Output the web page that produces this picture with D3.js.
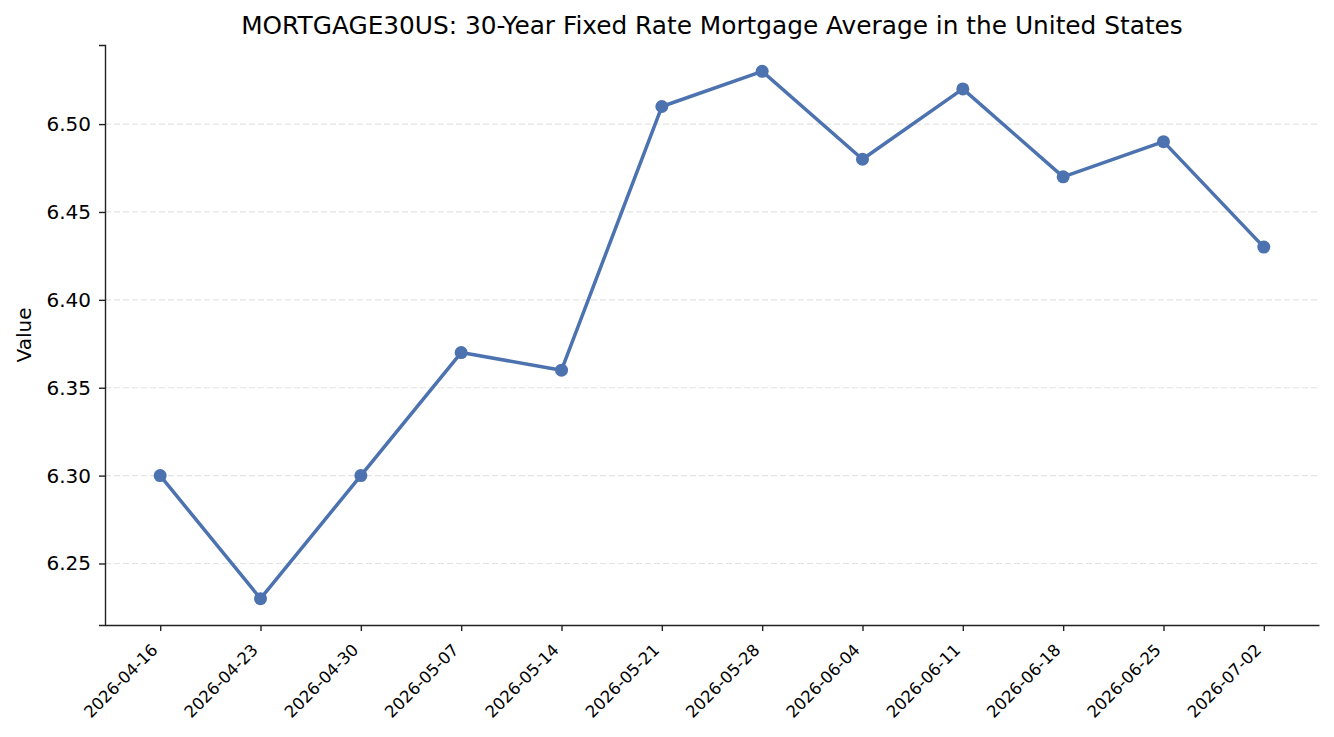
<!DOCTYPE html>
<html>
  <head>
    <meta charset="utf-8">
    <title>MORTGAGE30US</title>
    <style>
      body { margin: 0; background: #fff; }
      text { font-family: "DejaVu Sans", sans-serif; }
    </style>
  </head>
  <body>
    <div id="chart"></div>
    <script src="https://d3js.org/d3.v7.min.js"></script>
    <script>
// data
const dates = ['2026-04-16', '2026-04-23', '2026-04-30', '2026-05-07', '2026-05-14', '2026-05-21',
  '2026-05-28', '2026-06-04', '2026-06-11', '2026-06-18', '2026-06-25', '2026-07-02'];
const values = [6.30, 6.23, 6.30, 6.37, 6.36, 6.51, 6.53, 6.48, 6.52, 6.47, 6.49, 6.43];
const yTicks = [6.25, 6.30, 6.35, 6.40, 6.45, 6.50];

const W = 1334, H = 737;
const margin = { top: 45, right: 15, bottom: 112, left: 105 };
const width = W - margin.left - margin.right;
const height = H - margin.top - margin.bottom;
const color = '#4c72b0';

const svg = d3.select('#chart')
  .append('svg')
  .attr('width', W)
  .attr('height', H);

const g = svg.append('g')
  .attr('transform', `translate(${margin.left}, ${margin.top})`);

const parse = d3.timeParse('%Y-%m-%d');
const pts = dates.map((d, i) => ({ date: parse(d), label: d, value: values[i] }));

// 5% padding like matplotlib
const xExt = d3.extent(pts, d => d.date);
const xPad = (xExt[1] - xExt[0]) * 0.05;
const x = d3.scaleTime()
  .domain([new Date(+xExt[0] - xPad), new Date(+xExt[1] + xPad)])
  .range([0, width]);

const yExt = d3.extent(values);
const yPad = (yExt[1] - yExt[0]) * 0.05;
const y = d3.scaleLinear()
  .domain([yExt[0] - yPad, yExt[1] + yPad])
  .range([height, 0]);

// grid
g.selectAll('.grid')
  .data(yTicks)
  .enter()
  .append('line')
  .attr('class', 'grid')
  .attr('x1', 0)
  .attr('x2', width)
  .attr('y1', d => y(d))
  .attr('y2', d => y(d))
  .attr('stroke', '#e3e3e3')
  .attr('stroke-width', 1.2)
  .attr('stroke-dasharray', '6,3');

// axes
const yAxis = g.append('g')
  .call(d3.axisLeft(y).tickValues(yTicks).tickFormat(d3.format('.2f')).tickSize(6).tickPadding(8));
yAxis.select('.domain').attr('stroke', '#222').attr('stroke-width', 1.4);
yAxis.selectAll('.tick line').attr('stroke', '#222').attr('stroke-width', 1.4);
yAxis.selectAll('.tick text').attr('font-size', 20).attr('fill', '#000')
  .attr('font-family', '"DejaVu Sans", sans-serif');

const xAxis = g.append('g')
  .attr('transform', `translate(0, ${height})`)
  .call(d3.axisBottom(x).tickValues(pts.map(d => d.date)).tickFormat(d3.timeFormat('%Y-%m-%d')).tickSize(6).tickSizeOuter(0));
xAxis.select('.domain').attr('stroke', '#222').attr('stroke-width', 1.4);
xAxis.selectAll('.tick line').attr('stroke', '#222').attr('stroke-width', 1.4);
xAxis.selectAll('.tick text')
  .attr('font-size', 16.5)
  .attr('fill', '#000')
  .attr('font-family', '"DejaVu Sans", sans-serif')
  .attr('text-anchor', 'end')
  .attr('dy', null)
  .attr('y', 0)
  .attr('transform', 'translate(-2, 26) rotate(-45)');

// line
g.append('path')
  .datum(pts)
  .attr('fill', 'none')
  .attr('stroke', color)
  .attr('stroke-width', 3.5)
  .attr('stroke-linejoin', 'round')
  .attr('d', d3.line().x(d => x(d.date)).y(d => y(d.value)));

g.selectAll('.dot')
  .data(pts)
  .enter()
  .append('circle')
  .attr('class', 'dot')
  .attr('cx', d => x(d.date))
  .attr('cy', d => y(d.value))
  .attr('r', 6.5)
  .attr('fill', color);

// title + y label
svg.append('text')
  .attr('x', margin.left + width / 2)
  .attr('y', 34)
  .attr('text-anchor', 'middle')
  .attr('font-size', 24.8)
  .text('MORTGAGE30US: 30-Year Fixed Rate Mortgage Average in the United States');

svg.append('text')
  .attr('transform', `translate(31, ${margin.top + height / 2}) rotate(-90)`)
  .attr('text-anchor', 'middle')
  .attr('font-size', 20)
  .text('Value');
    </script>
  </body>
</html>
